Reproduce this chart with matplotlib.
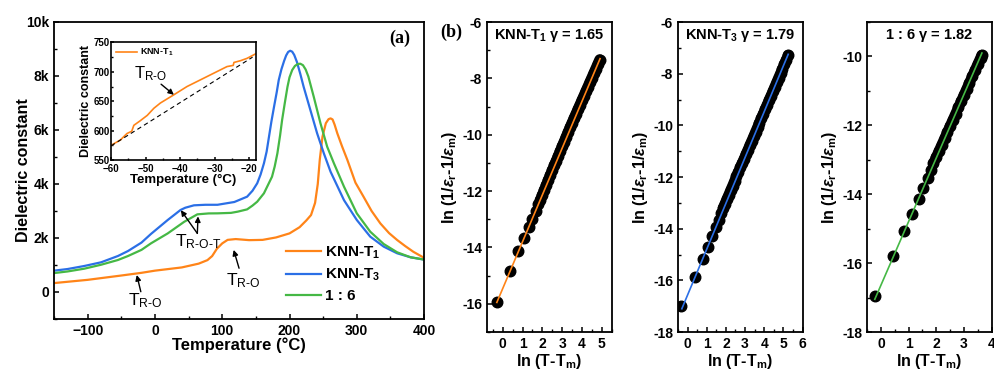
import matplotlib
matplotlib.use('Agg')
import matplotlib.pyplot as plt
from matplotlib.ticker import MultipleLocator, FuncFormatter

plt.rcParams['font.family'] = ['Liberation Sans', 'DejaVu Sans']
plt.rcParams['font.weight'] = 'bold'
plt.rcParams['axes.labelweight'] = 'bold'
plt.rcParams['mathtext.fontset'] = 'custom'
plt.rcParams['mathtext.rm'] = 'Liberation Sans'
plt.rcParams['mathtext.bf'] = 'Liberation Sans:bold'
plt.rcParams['mathtext.it'] = 'Liberation Sans:italic:bold'

ORANGE = '#FF8418'
BLUE = '#2B6FE6'
GREEN = '#45B845'

# ---- (a) dielectric constant vs temperature ----
t1_T = [-150, -100, -50, -20, 0, 40, 65, 78, 85, 92, 100, 108, 120, 140, 160,
        180, 200, 215, 225, 232, 238, 242, 245, 249, 254, 258, 261, 264, 267,
        271, 278, 286, 298, 310, 322, 335, 348, 360, 372, 384, 400]
t1_eps = [330, 450, 610, 710, 790, 910, 1050, 1180, 1330, 1600, 1800, 1930,
          1960, 1920, 1930, 2020, 2170, 2400, 2650, 2850, 3300, 4000, 4900,
          5750, 6250, 6400, 6430, 6390, 6200, 5880, 5400, 4890, 4050, 3530,
          3000, 2540, 2180, 1925, 1700, 1490, 1265]

t3_T = [-150, -130, -105, -80, -55, -40, -20, -6, 19, 38, 45, 58, 75, 93, 118,
        137, 145, 152, 157, 162, 166, 169.5, 173, 177, 181, 184, 188, 192, 195,
        198, 201, 204, 207, 211, 216, 221, 231, 241, 251, 261, 281, 300, 320,
        340, 360, 380, 400]
t3_eps = [790, 850, 963, 1100, 1333, 1518, 1830, 2148, 2667, 3037, 3120,
          3210, 3230, 3230, 3333, 3530, 3750, 4026, 4350, 4766, 5200, 5750,
          6300, 6860, 7400, 7850, 8250, 8560, 8760, 8890, 8935, 8900, 8780,
          8520, 8080, 7600, 6740, 5880, 5137, 4456, 3400, 2667, 2050, 1680,
          1433, 1285, 1200]

m16_T = [-150, -130, -105, -80, -55, -40, -20, -6, 19, 43.5, 63, 80, 93, 113,
         123, 137, 145, 152, 162, 174, 178, 182, 186, 189, 193, 197, 200, 204,
         208, 212, 216, 220, 224, 228, 236, 246, 256, 266, 281, 300, 320, 340,
         360, 380, 400]
m16_eps = [700, 760, 863, 1010, 1185, 1333, 1560, 1800, 2170, 2600, 2876,
           2910, 2913, 2930, 2975, 3060, 3200, 3344, 3655, 4270, 4650, 5137,
           5800, 6370, 7000, 7600, 7950, 8220, 8370, 8440, 8455, 8400, 8240,
           7980, 7233, 6250, 5380, 4766, 3900, 2913, 2233, 1777, 1470, 1285,
           1200]

a_yticks = [0, 2000, 4000, 6000, 8000, 10000]
a_yticklabels = ['0', '2k', '4k', '6k', '8k', '10k']

# inset: KNN-T1 near the R-O transition
ins_T = [-60, -57.3, -55.4, -54, -53.4, -51.5, -49.5, -47.6, -45.7, -41.8,
         -38, -32.2, -26.4, -24.6, -24.4, -22.5, -20.6, -18]
ins_eps = [575, 584, 595, 599, 609, 617, 626, 638, 647, 661, 675, 692, 709,
           711, 716, 719, 723, 731]
ins_base_T = [-60, -19]
ins_base_eps = [574, 725]

# ---- (b) modified Curie-Weiss fits ----
# first 8 points of each set are the isolated ones, the rest are densely packed
N_SPARSE = 8
b1_x = [-0.3, 0.38, 0.79, 1.08, 1.32, 1.5, 1.67, 1.8,
        1.9, 2.0, 2.1, 2.2, 2.3, 2.4, 2.5, 2.6, 2.7, 2.8, 2.9, 3.0, 3.1, 3.2,
        3.3, 3.4, 3.5, 3.6, 3.7, 3.8, 3.9, 4.0, 4.1, 4.2, 4.3, 4.4, 4.5, 4.6,
        4.7, 4.8, 4.9]
b1_y = [-15.93, -14.83, -14.13, -13.66, -13.29, -12.99, -12.71, -12.47,
        -12.30, -12.13, -11.95, -11.78, -11.60, -11.43, -11.26, -11.09,
        -10.92, -10.75, -10.58, -10.41, -10.24, -10.07, -9.90, -9.74, -9.57,
        -9.41, -9.25, -9.09, -8.93, -8.77, -8.61, -8.45, -8.29, -8.13, -7.97,
        -7.81, -7.65, -7.49, -7.33]
b1_fit_x = [-0.3, 4.92]
b1_fit_y = [-15.95, -7.3]

b2_x = [-0.32, 0.39, 0.79, 1.06, 1.30, 1.50, 1.64, 1.76,
        1.85, 1.95, 2.05, 2.15, 2.25, 2.35, 2.45, 2.55, 2.65, 2.75, 2.85,
        2.95, 3.05, 3.15, 3.25, 3.35, 3.45, 3.55, 3.65, 3.75, 3.85, 3.95,
        4.05, 4.15, 4.25, 4.35, 4.45, 4.55, 4.65, 4.75, 4.85, 4.95, 5.05,
        5.15, 5.25]
b2_y = [-17.0, -15.86, -15.18, -14.70, -14.28, -13.92, -13.66, -13.41,
        -13.20, -13.03, -12.85, -12.68, -12.50, -12.33, -12.15, -11.98,
        -11.81, -11.63, -11.46, -11.29, -11.11, -10.94, -10.76, -10.59,
        -10.42, -10.24, -10.07, -9.89, -9.72, -9.55, -9.37, -9.20, -9.02,
        -8.85, -8.68, -8.50, -8.33, -8.15, -7.98, -7.81, -7.63, -7.46, -7.28]
b2_fit_x = [-0.3, 5.25]
b2_fit_y = [-17.1, -7.25]

b3_x = [-0.21, 0.43, 0.83, 1.12, 1.36, 1.52, 1.69, 1.81,
        1.9, 2.0, 2.1, 2.2, 2.3, 2.4, 2.5, 2.6, 2.7, 2.8, 2.9, 3.0, 3.1, 3.2,
        3.3, 3.4, 3.5, 3.6, 3.64]
b3_y = [-16.96, -15.79, -15.07, -14.56, -14.15, -13.83, -13.54, -13.30,
        -13.10, -12.92, -12.74, -12.56, -12.38, -12.20, -12.02, -11.84,
        -11.66, -11.48, -11.30, -11.12, -10.94, -10.76, -10.58, -10.40,
        -10.22, -10.04, -9.96]
b3_fit_x = [-0.22, 3.65]
b3_fit_y = [-17.05, -9.9]

b_titles = [r'KNN-T$_\mathbf{1}$ $\mathbf{\gamma}$ = 1.65',
            r'KNN-T$_\mathbf{3}$ $\mathbf{\gamma}$ = 1.79',
            r'1 : 6 $\mathbf{\gamma}$ = 1.82']

fig = plt.figure(figsize=(9.95, 3.72), dpi=100)


def style_axes(ax, lw=1.3):
    for s in ax.spines.values():
        s.set_linewidth(lw)
    ax.tick_params(which='both', direction='in', top=False, right=False)
    ax.tick_params(which='major', length=3.5, width=1.1)
    ax.tick_params(which='minor', length=2, width=1.0)


# main panel
ax = fig.add_axes([0.0543, 0.1425, 0.3719, 0.7984])
ax.plot(t1_T, t1_eps, color=ORANGE, lw=1.6, label=r'KNN-T$_\mathbf{1}$')
ax.plot(t3_T, t3_eps, color=BLUE, lw=1.6, label=r'KNN-T$_\mathbf{3}$')
ax.plot(m16_T, m16_eps, color=GREEN, lw=1.6, label='1 : 6')
ax.set_xlim(-150, 400)
ax.set_ylim(-1000, 10000)
ax.xaxis.set_major_locator(MultipleLocator(100))
ax.xaxis.set_minor_locator(MultipleLocator(50))
ax.set_yticks(a_yticks)
ax.set_yticklabels(a_yticklabels)
ax.yaxis.set_minor_locator(MultipleLocator(1000))
style_axes(ax)
ax.tick_params(labelsize=10)
ax.set_xlabel('Temperature (°C)', fontsize=12, labelpad=0)
ax.set_ylabel('Dielectric constant', fontsize=11.5, labelpad=-4)
leg = ax.legend(loc='upper left', bbox_to_anchor=(0.626, 0.25), frameon=False,
                fontsize=11, handlelength=2.3, handletextpad=0.3,
                labelspacing=0.38, borderpad=0, borderaxespad=0)
ax.text(0.935, 0.945, '(a)', transform=ax.transAxes, ha='center', va='center',
        fontsize=13, fontweight='bold', family='Liberation Serif')

arrow = dict(arrowstyle='-|>', color='k', lw=1.0, mutation_scale=8,
             shrinkA=0, shrinkB=0)
ann = dict(fontsize=12.5, fontweight='normal', color='k')
ax.annotate('', xy=(-27, 630), xytext=(-21, 10), arrowprops=arrow)
ax.text(-40, -480, r'T$_\mathregular{R‐O}$', **ann)
ax.annotate('', xy=(38.5, 3030), xytext=(63, 2170), arrowprops=arrow)
ax.annotate('', xy=(64, 2800), xytext=(63, 2170), arrowprops=arrow)
ax.text(30, 1700, r'T$_\mathregular{R‐O‐T}$', **ann)
ax.annotate('', xy=(117, 1560), xytext=(125, 880), arrowprops=arrow)
ax.text(105, 260, r'T$_\mathregular{R‐O}$', **ann)

# inset
axi = fig.add_axes([0.1116, 0.5699, 0.1457, 0.3159])
axi.plot(ins_T, ins_eps, color=ORANGE, lw=1.2, label=r'KNN-T$_\mathbf{1}$')
axi.plot(ins_base_T, ins_base_eps, color='k', lw=0.8, ls=(0, (4, 3)))
axi.set_xlim(-60, -18)
axi.set_ylim(550, 750)
axi.xaxis.set_major_locator(MultipleLocator(10))
axi.xaxis.set_minor_locator(MultipleLocator(5))
axi.yaxis.set_major_locator(MultipleLocator(50))
axi.yaxis.set_minor_locator(MultipleLocator(25))
style_axes(axi, lw=1.2)
axi.tick_params(labelsize=7)
axi.tick_params(axis='x', pad=3.2)
axi.tick_params(axis='y', pad=1.2)
axi.tick_params(which='major', length=2.5)
axi.tick_params(which='minor', length=1.5)
axi.set_xlabel('Temperature (°C)', fontsize=9.5, labelpad=0)
axi.set_ylabel('Dielectric constant', fontsize=9, labelpad=1)
axi.legend(loc='upper left', frameon=False, fontsize=6.5, handlelength=2.4,
           handletextpad=0.3, borderaxespad=0.3, borderpad=0.2)
axi.annotate('', xy=(-41.8, 661), xytext=(-45.5, 679), arrowprops=arrow)
axi.text(-53.3, 689, r'T$_\mathregular{R‐O}$', fontsize=12, fontweight='normal')

# (b) panels
hyphen_fmt = FuncFormatter(lambda v, p: f'{v:g}')
b_specs = [
    (b1_x, b1_y, b1_fit_x, b1_fit_y, ORANGE, 0.4894, (-0.8, 5.5), 5, (-17, -6), -16),
    (b2_x, b2_y, b2_fit_x, b2_fit_y, BLUE, 0.6814, (-0.5, 6), 6, (-18, -6), -18),
    (b3_x, b3_y, b3_fit_x, b3_fit_y, GREEN, 0.8714, (-0.5, 4), 4, (-18, -9), -18),
]
MS = 7.6
for i, (bx, by, fx, fy, col, left, xl, xmax, yl, ymin) in enumerate(b_specs):
    axb = fig.add_axes([left, 0.1075, 0.1252, 0.8333])
    axb.plot(bx, by, 'o', ls='none', color='k', ms=MS, zorder=2)
    # densely packed points merge into one continuous band
    axb.plot(bx[N_SPARSE:], by[N_SPARSE:], color='k', lw=MS,
             solid_capstyle='round', zorder=2)
    axb.plot(fx, fy, color=col, lw=1.2, zorder=3)
    axb.set_xlim(*xl)
    axb.set_ylim(*yl)
    axb.set_xticks(range(0, xmax + 1))
    axb.set_yticks(range(ymin, int(yl[1]) + 1, 2) if yl[1] % 2 == 0
                   else range(ymin, int(yl[1]), 2))
    axb.xaxis.set_minor_locator(MultipleLocator(0.5))
    axb.yaxis.set_minor_locator(MultipleLocator(1))
    axb.xaxis.set_major_formatter(hyphen_fmt)
    axb.yaxis.set_major_formatter(hyphen_fmt)
    style_axes(axb)
    axb.tick_params(labelsize=10)
    axb.set_xlabel(r'ln (T-T$_\mathbf{m}$)', fontsize=11.5, labelpad=1)
    axb.set_ylabel(r'ln (1/$\mathit{\varepsilon}_\mathbf{r}$-1/'
                   r'$\mathit{\varepsilon}_\mathbf{m}$)', fontsize=11.5, labelpad=2)
    axb.text(0.5, 0.955, b_titles[i], transform=axb.transAxes, ha='center',
             va='center', fontsize=10.5, fontweight='bold')

fig.text(0.454, 0.914, '(b)', ha='center', va='center', fontsize=13,
         fontweight='bold', family='Liberation Serif')

fig.savefig('out.png', dpi=100)
